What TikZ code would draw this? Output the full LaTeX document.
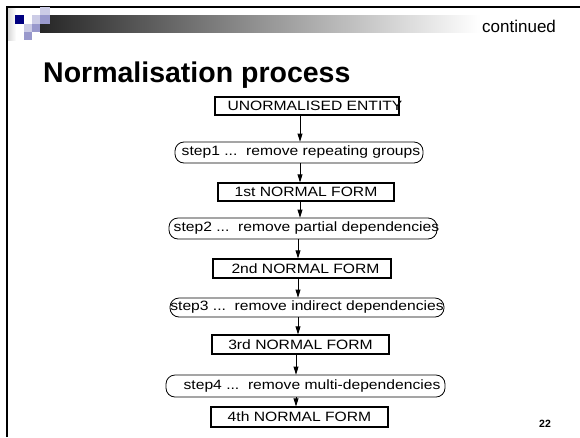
\documentclass[tikz,border=0pt]{standalone}
\usepackage{fontspec}
\setmainfont{Liberation Sans}
\newfontfamily\diagfont[FakeStretch=1.16]{Liberation Sans}
\usetikzlibrary{arrows.meta,positioning}
\definecolor{logonavy}{HTML}{000080}
\definecolor{logolight}{HTML}{CCCCE6}
\definecolor{logomid}{HTML}{9999CC}
\newcommand\nudge[2]{\hspace*{#1}#2\hspace*{-#1}}

\begin{document}
\begin{tikzpicture}[
  x=1pt, y=-1pt,
  nf/.style={draw, line width=1.3pt, inner sep=0pt, minimum height=18pt,
             font=\diagfont\fontsize{13.5}{15}\selectfont},
  stepbox/.style={draw, line width=0.8pt, rounded corners=9pt, inner sep=0pt,
                  minimum height=21pt, font=\diagfont\fontsize{13.5}{15}\selectfont},
  arrow/.style={-{Triangle[length=8pt,width=5pt]}, line width=0.8pt},
  slidetext/.style={anchor=base west, inner sep=0pt},
]
  \useasboundingbox (0,0) rectangle (580,437);

  %% Slide frame and header bar
  \shade[left color=black!85, right color=white] (40,15) rectangle (480,32);
  \shade[left color=black!15, right color=white] (8,8) rectangle (16,40);
  \draw[line width=2pt] (7,437) -- (7,7) -- (580,7);

  %% Logo squares
  \fill[logonavy]  (15,15) rectangle (24,24);
  \fill[logolight] (32,15) rectangle (40,24);
  \fill[logolight] (40,7)  rectangle (50,15);
  \fill[logomid]   (40,15) rectangle (50,24);
  \fill[logolight] (24,24) rectangle (32,32);
  \fill[logomid]   (32,24) rectangle (40,32);
  \fill[logomid]   (24,32) rectangle (32,40);

  %% Header texts
  \node[slidetext, font=\fontsize{17}{20}\selectfont] (cont) at (482,32) {continued};
  \node[slidetext, font=\bfseries\fontsize{28.5}{34}\selectfont] (title) at (43,82) {Normalisation process};
  \node[slidetext, font=\bfseries\fontsize{10.5}{12}\selectfont] (pageno) at (539,427) {22};

  %% Forms and steps, top to bottom
  \node[nf, minimum width=184pt] (ue) at (307,106) {\nudge{8pt}{UNORMALISED ENTITY}};
  \node[stepbox, minimum width=248pt] (s1) at (299,152.5) {\nudge{2pt}{step1 ...~~remove repeating groups}};
  \node[nf, minimum width=176pt] (nf1) at (306,192) {1st NORMAL FORM};
  \node[stepbox, minimum width=268pt] (s2) at (303,228.5) {\nudge{3.5pt}{step2 ...~~remove partial dependencies}};
  \node[nf, minimum width=178pt, minimum height=19pt] (nf2) at (302,268.5) {\nudge{3.5pt}{2nd NORMAL FORM}};
  \node[stepbox, minimum width=274pt, minimum height=19pt] (s3) at (307,307.5) {step3 ...~~remove indirect dependencies};
  \node[nf, minimum width=177pt, minimum height=19pt] (nf3) at (300.5,344.5) {3rd NORMAL FORM};
  \node[stepbox, minimum width=279pt, minimum height=22pt] (s4) at (305.5,386) {\nudge{6.5pt}{step4 ...~~remove multi-dependencies}};
  \node[nf, minimum width=177pt, minimum height=20pt] (nf4) at (299.5,417) {4th NORMAL FORM};

  %% Arrow columns
  \coordinate (ax1) at (300,0);
  \coordinate (ax2) at (298,0);
  \coordinate (ax3) at (296,0);

  %% Chain arrows
  \draw[arrow] (ue.south -| ax1)  -- (s1.north -| ax1);
  \draw[arrow] (s1.south -| ax1)  -- (nf1.north -| ax1);
  \draw[arrow] (nf1.south -| ax1) -- (s2.north -| ax1);
  \draw[arrow] (s2.south -| ax2)  -- (nf2.north -| ax2);
  \draw[arrow] (nf2.south -| ax2) -- (s3.north -| ax2);
  \draw[arrow] (s3.south -| ax2)  -- (nf3.north -| ax2);
  \draw[arrow] (nf3.south -| ax3) -- (s4.north -| ax3);
  \draw[arrow] (s4.south -| ax3)  -- (nf4.north -| ax3);

\end{tikzpicture}
\end{document}
